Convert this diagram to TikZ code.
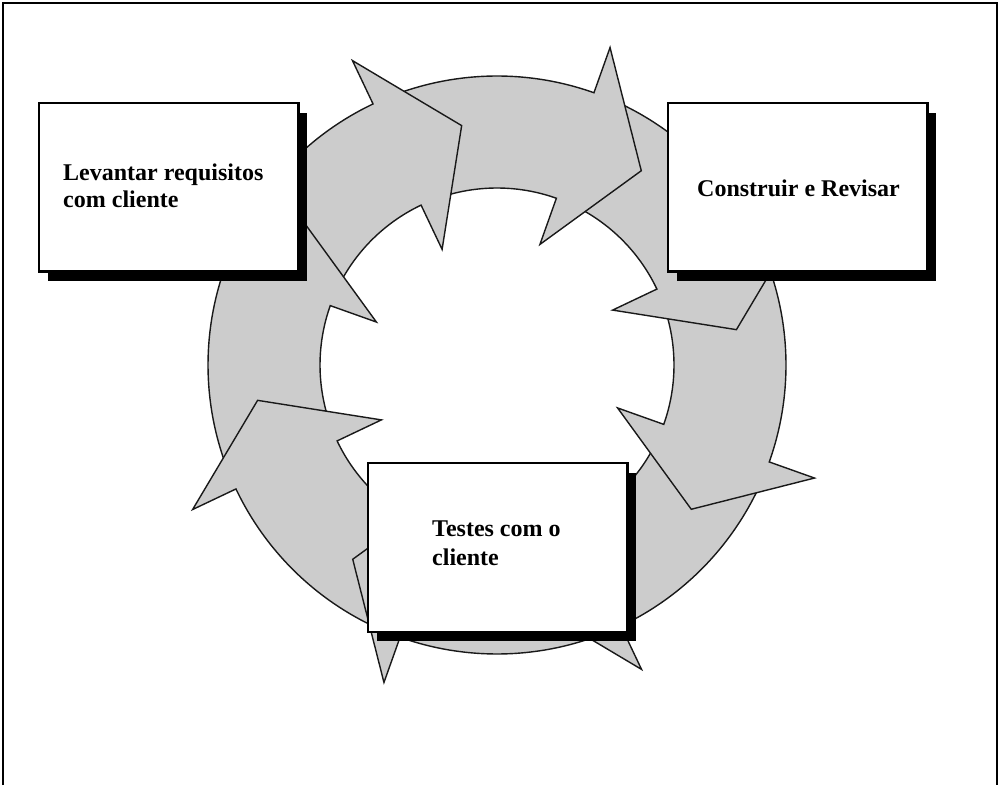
\documentclass[tikz,border=0pt]{standalone}
\usepackage{fontspec}
\setmainfont{Liberation Serif}
\usetikzlibrary{calc,shadows}
\begin{document}
\begin{tikzpicture}[x=1pt,y=1pt,
  ringarrow/.style={fill=black!20, draw=black!90, line width=1.4pt, line join=miter},
  card/.style={draw=black, line width=2.5pt, fill=white, rectangle,
    minimum width=259.5pt, minimum height=168.5pt, inner sep=0pt,
    general shadow={fill=black, shadow xshift=9pt, shadow yshift=-9.5pt}},
  cardtext/.style={anchor=base west, inner sep=0pt, align=left,
    font=\fontsize{24}{27}\selectfont\bfseries},
  frameline/.style={draw=black, line width=2pt}]
\useasboundingbox (0,0) rectangle (1003,785);
\draw[frameline] (3,0) -- (3,782) -- (997,782) -- (997,0);

% centre of the ring of curved arrows
\coordinate (C) at (497,420);

% eight curved block arrows, each ending in a barbed head;
% drawn so that every head lies over the tail of the following arrow
\foreach \t in {-81.6,-36.6,8.4,53.4,98.4,143.4,188.4,233.4}{
  \pgfmathsetmacro\ta{\t+58}
  \pgfmathsetmacro\tb{\t+17}
  \draw[ringarrow] ($(C)+(\ta:289)$) arc[start angle=\ta, end angle=\tb, radius=289]
    -- ($(C)+(\tb:337)$) -- ($(C)+(\t:242)$) -- ($(C)+(\tb:128)$) -- ($(C)+(\tb:177)$)
    arc[start angle=\tb, end angle=\ta, radius=177] -- cycle;
}

% the three stage boxes
\node[card] (req) at (168.5,597.5) {};
\node[card] (build) at (797.5,597.5) {};
\node[card] (test) at (497.5,237.5) {};

% box texts (anchored at the baseline of their last line)
\node[cardtext] (reqtext) at (63,577) {Levantar requisitos\\com cliente};
\node[cardtext] (buildtext) at (697,588) {Construir e Revisar};
\node[cardtext, font=\fontsize{24}{29}\selectfont\bfseries] (testtext) at (432,220) {Testes com o\\cliente};
\end{tikzpicture}
\end{document}
